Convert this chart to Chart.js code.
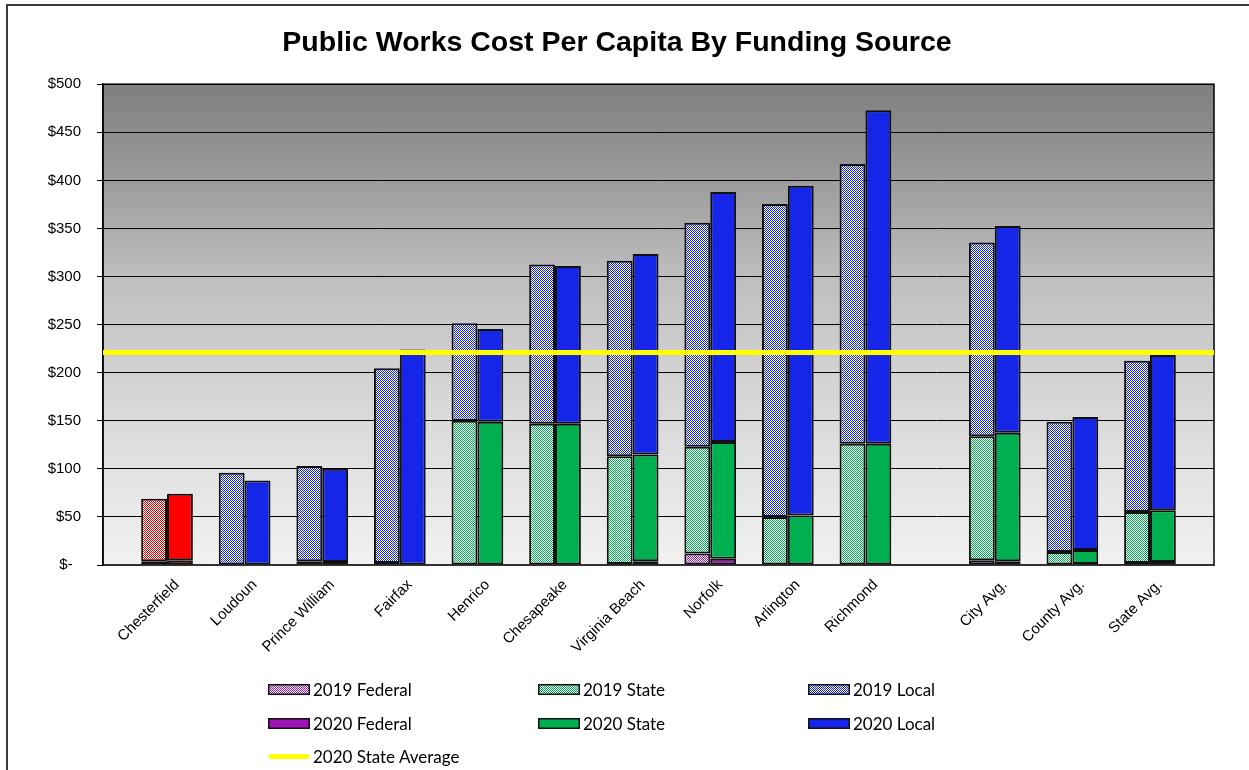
<!DOCTYPE html>
<html>
<head>
<meta charset="utf-8">
<script src="https://cdn.jsdelivr.net/npm/chart.js@4.4.1/dist/chart.umd.min.js"></script>
<style>
  body { margin: 0; background: #fff; }
  #frame { position: absolute; left: 6px; top: 4px; width: 1400px; height: 900px; border: 2px solid #3c3c3c; }
  #wrap { position: absolute; left: 0; top: 0; width: 1249px; height: 770px; }
  #legend { position: absolute; left: 268px; top: 673px; display: grid; grid-template-columns: 270px 270px 270px; grid-auto-rows: 33.5px; font-family: Lato, sans-serif; font-size: 17px; color: #000; }
  .item { display: flex; align-items: center; }
  .item canvas { margin-right: 3px; }
</style>
</head>
<body>
<div id="frame"></div>
<div id="wrap"><canvas id="chart" width="1249" height="770"></canvas></div>
<div id="legend"></div>
<script>
const localities = ['Chesterfield', 'Loudoun', 'Prince William', 'Fairfax', 'Henrico', 'Chesapeake',
  'Virginia Beach', 'Norfolk', 'Arlington', 'Richmond', 'City Avg.', 'County Avg.', 'State Avg.'];

const federal2019 = [4, 0, 4, 0, 0, 0, 1, 12, 0, 0, 5, 0.5, 2];
const state2019 = [0, 0, 0, 2, 150, 147, 112, 111, 50, 126, 129, 13, 53];
const local2019 = [65, 96, 99, 202.5, 101.5, 165.5, 203.5, 233, 325.5, 291, 201.5, 135.5, 157.5];

const federal2020 = [5, 0, 3, 0, 0, 0, 4, 6.5, 0, 0, 4, 1, 3];
const state2020 = [0, 0, 0, 0, 149, 147, 111, 121.5, 51.5, 126, 133.5, 14.5, 54];
const local2020 = [69, 88, 97, 224, 96.5, 164, 208.5, 260, 343, 347, 215, 138.5, 161.5];

const stateAverage2020 = 221;
const highlight = 'Chesterfield';

// averages sit a little apart from the localities
const firstAverage = 10;
const averageGap = 2 / 3;
const xPos = localities.map((n, i) => (i < firstAverage ? i : i + averageGap));
const xMin = -0.825;
const xMax = xPos[xPos.length - 1] + 0.825;

const font = 'Liberation Sans, Arial, sans-serif';
const colors = { federal: '#9c14b4', state: '#00b050', local: '#1526e8', highlight: '#ff0000' };

const canvas = document.getElementById('chart');

function checker(color) {
  const tile = document.createElement('canvas');
  tile.width = tile.height = 2;
  const g = tile.getContext('2d');
  g.fillStyle = '#fff';
  g.fillRect(0, 0, 2, 2);
  g.fillStyle = color;
  g.fillRect(0, 0, 1, 1);
  g.fillRect(1, 1, 1, 1);
  return canvas.getContext('2d').createPattern(tile, 'repeat');
}

function barSet(label, values, year, color) {
  const solid = year === '2020';
  const fill = solid ? color : checker(color);
  const hiFill = solid ? colors.highlight : checker(colors.highlight);
  return {
    type: 'bar',
    label,
    stack: year,
    data: values.map((v, i) => ({ x: xPos[i], y: v })),
    backgroundColor: (ctx) => (localities[ctx.dataIndex] === highlight ? hiFill : fill),
    legendFill: fill,
    borderColor: '#111',
    borderWidth: 2,
    borderSkipped: false
  };
}

const plotBackground = {
  id: 'plotBackground',
  beforeDraw(chart) {
    const { ctx, chartArea: a } = chart;
    const g = ctx.createLinearGradient(0, a.top, 0, a.bottom);
    g.addColorStop(0, '#7f7f7f');
    g.addColorStop(0.2, '#9c9c9c');
    g.addColorStop(0.4, '#bebebe');
    g.addColorStop(0.6, '#d2d2d2');
    g.addColorStop(0.8, '#e2e2e2');
    g.addColorStop(1, '#f1f1f1');
    ctx.save();
    ctx.fillStyle = g;
    ctx.fillRect(a.left, a.top, a.width, a.height);
    ctx.strokeStyle = '#000';
    ctx.lineWidth = 1.5;
    ctx.strokeRect(a.left, a.top, a.width, a.height);
    ctx.restore();
  }
};

const chart = new Chart(canvas, {
  data: {
    datasets: [
      barSet('2019 Federal', federal2019, '2019', colors.federal),
      barSet('2019 State', state2019, '2019', colors.state),
      barSet('2019 Local', local2019, '2019', colors.local),
      barSet('2020 Federal', federal2020, '2020', colors.federal),
      barSet('2020 State', state2020, '2020', colors.state),
      barSet('2020 Local', local2020, '2020', colors.local),
      {
        type: 'line',
        label: '2020 State Average',
        stack: 'avg',
        order: -1,
        data: [{ x: xMin, y: stateAverage2020 }, { x: xMax, y: stateAverage2020 }],
        borderColor: '#ffff00',
        borderWidth: 5,
        pointRadius: 0
      }
    ]
  },
  options: {
    responsive: false,
    animation: false,
    categoryPercentage: 2 / 3,
    barPercentage: 1,
    layout: { padding: { left: 20, right: 35, top: 0, bottom: 85 } },
    plugins: {
      legend: { display: false },
      tooltip: { enabled: false },
      title: {
        display: true,
        text: 'Public Works Cost Per Capita By Funding Source',
        color: '#000',
        font: { family: font, size: 28.5, weight: 'bold' },
        padding: { top: 26, bottom: 24 }
      }
    },
    scales: {
      x: {
        type: 'linear',
        min: xMin,
        max: xMax,
        offset: false,
        stacked: true,
        grid: { display: false },
        border: { display: true, color: '#333', width: 2 },
        afterBuildTicks: (s) => { s.ticks = xPos.map((v) => ({ value: v })); },
        afterFit: (s) => { s.height = 120; },
        ticks: {
          autoSkip: false,
          minRotation: 45,
          maxRotation: 45,
          labelOffset: 10,
          color: '#000',
          font: { family: font, size: 15 },
          callback: (v, i) => localities[i]
        }
      },
      y: {
        min: 0,
        max: 500,
        stacked: true,
        afterFit: (s) => { s.width = 83; },
        grid: { color: '#000', lineWidth: 1, tickLength: 6 },
        border: { color: '#000', width: 1.5 },
        ticks: {
          stepSize: 50,
          padding: 16,
          color: '#000',
          font: { family: font, size: 15 },
          callback: (v) => (v === 0 ? '$-  ' : '$' + v)
        }
      }
    }
  },
  plugins: [plotBackground]
});

const legendBox = document.getElementById('legend');
chart.data.datasets.forEach((ds) => {
  const item = document.createElement('div');
  item.className = 'item';
  const sw = document.createElement('canvas');
  sw.width = 42;
  sw.height = 11;
  const g = sw.getContext('2d');
  if (ds.type === 'line') {
    g.strokeStyle = ds.borderColor;
    g.lineWidth = 5;
    g.lineCap = 'round';
    g.beginPath();
    g.moveTo(3, 5.5);
    g.lineTo(39, 5.5);
    g.stroke();
  } else {
    g.fillStyle = ds.legendFill;
    g.fillRect(0, 0, 42, 11);
    g.strokeStyle = '#111';
    g.lineWidth = 1.5;
    g.strokeRect(0.75, 0.75, 40.5, 9.5);
  }
  const txt = document.createElement('span');
  txt.textContent = ds.label;
  item.appendChild(sw);
  item.appendChild(txt);
  legendBox.appendChild(item);
});
</script>
</body>
</html>
